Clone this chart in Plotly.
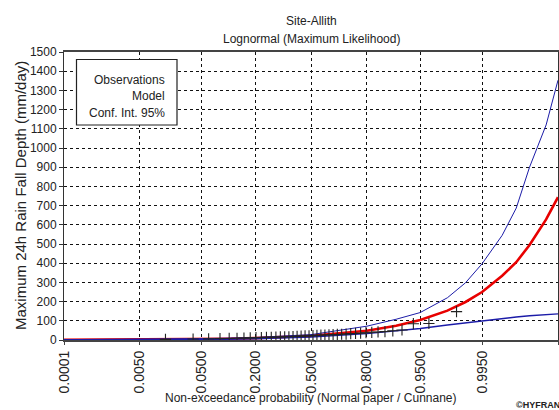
from statistics import NormalDist
import plotly.graph_objects as go

# ---------------- data ----------------
tick_probs = [0.0001, 0.0050, 0.0500, 0.2000, 0.5000, 0.8000, 0.9500, 0.9950, 0.9999]
tick_labels = ["0.0001", "0.0050", "0.0500", "0.2000", "0.5000", "0.8000", "0.9500", "0.9950", "0.9999"]

curve_probs = [0.0001, 0.0002, 0.0005, 0.001, 0.002, 0.005, 0.01, 0.02, 0.05, 0.1, 0.2,
               0.5, 0.8, 0.9, 0.95, 0.98, 0.99, 0.995, 0.998, 0.999, 0.9995, 0.9998, 0.9999]
model = [0.6, 0.8, 1.0, 1.2, 1.4, 1.9, 2.4, 3.1, 4.6, 6.5, 9.8,
         21.8, 48.5, 74, 104, 153, 198, 250, 335, 405, 495, 628, 744]
upper = [2.0, 2.2, 2.6, 3.0, 3.4, 4.0, 4.7, 5.6, 7.4, 9.5, 13,
         28, 72, 108, 143, 220, 298, 397, 545, 687, 900, 1120, 1353]
lower = [0.2, 0.25, 0.35, 0.45, 0.6, 0.9, 1.2, 1.7, 2.8, 4.2, 6.8,
         16, 33, 47, 60, 78, 90, 100, 112, 120, 126, 132, 136]

obs_rank = list(range(1, 43))
obs_values = [3, 5, 6, 7, 8, 9, 10, 11, 12, 13, 14, 14, 15, 16, 17, 17, 18, 19, 20, 21, 22,
              23, 24, 25, 26, 27, 28, 29, 30, 31, 33, 34, 36, 38, 40, 42, 44, 48, 52, 85, 86, 148]
n_obs = len(obs_values)

y_ticks = list(range(0, 1501, 100))

# ---------------- scale: normal probability paper ----------------
nd = NormalDist()
zq = nd.inv_cdf
tick_z = [zq(p) for p in tick_probs]
curve_z = [zq(p) for p in curve_probs]
obs_z = [zq((i - 0.4) / (n_obs + 0.2)) for i in obs_rank]  # Cunnane

FONT = "Arial, Liberation Sans, sans-serif"
BLUE = "#1c1ca8"
RED = "#e80000"

fig = go.Figure()
fig.add_trace(go.Scatter(x=curve_z, y=model, mode="lines",
                         line=dict(color=RED, width=2.6), showlegend=False))
fig.add_trace(go.Scatter(x=curve_z, y=lower, mode="lines",
                         line=dict(color=BLUE, width=1.4), showlegend=False))
fig.add_trace(go.Scatter(x=curve_z, y=upper, mode="lines",
                         line=dict(color=BLUE, width=1.0), showlegend=False))
fig.add_trace(go.Scatter(x=obs_z, y=obs_values, mode="markers",
                         marker=dict(symbol="cross-thin", size=8,
                                     line=dict(color="#222222", width=1.1)),
                         showlegend=False, cliponaxis=True))

L, R, T, B = 64, 1, 52, 70
W = 559 - L - R
H = 410 - T - B


def px(xp):
    return (xp - L) / W


def py(yp):
    return (410 - B - yp) / H


fig.update_layout(
    width=559, height=410,
    margin=dict(l=L, r=R, t=T, b=B, pad=0),
    paper_bgcolor="white", plot_bgcolor="white",
    font=dict(family=FONT, size=12, color="#222222"),
    xaxis=dict(range=[tick_z[0], tick_z[-1]], tickvals=tick_z, ticktext=tick_labels,
               tickangle=-90, showgrid=True, gridcolor="#111111", griddash="3px,3px",
               gridwidth=1, zeroline=False, showline=True, linecolor="#444444",
               linewidth=2, mirror=True, ticks="outside", ticklen=3,
               tickcolor="#444444", tickfont=dict(size=14, family=FONT)),
    yaxis=dict(range=[0, 1500], tickvals=y_ticks, showgrid=True, gridcolor="#111111",
               griddash="3px,3px", gridwidth=1, zeroline=False, showline=True,
               linecolor="#333333", linewidth=1, mirror=True, ticks="outside",
               ticklen=4, tickcolor="#333333", tickfont=dict(size=12, family=FONT)),
    showlegend=False,
)

ann = [
    dict(text="Site-Allith", x=px(311), y=py(21), xanchor="center", yanchor="middle"),
    dict(text="Lognormal (Maximum Likelihood)", x=px(311), y=py(39), xanchor="center",
         yanchor="middle"),
    dict(text="Non-exceedance probability (Normal paper / Cunnane)", x=px(311), y=py(398),
         xanchor="center", yanchor="middle"),
    dict(text="Maximum 24h Rain Fall Depth (mm/day)", x=px(20), y=py(196),
         xanchor="center", yanchor="middle", textangle=-90,
         font=dict(size=15, family=FONT, color="#222222")),
    dict(text="Observations", x=px(167), y=py(79.5), xanchor="right", yanchor="middle"),
    dict(text="Model", x=px(167), y=py(96.5), xanchor="right", yanchor="middle"),
    dict(text="Conf. Int. 95%", x=px(167), y=py(112.5), xanchor="right", yanchor="middle"),
    dict(text="<b>©HYFRAN</b>", x=px(514), y=py(405), xanchor="left", yanchor="middle",
         font=dict(size=9, family=FONT, color="#222222")),
]
for a in ann:
    a.setdefault("font", dict(size=12, family=FONT, color="#222222"))
    fig.add_annotation(xref="paper", yref="paper", showarrow=False, **a)

fig.add_shape(type="rect", xref="paper", yref="paper",
              x0=px(76.5), x1=px(177), y0=py(59.5), y1=py(125),
              line=dict(color="#222222", width=1.2), fillcolor="white", layer="above")

fig.write_html("out.html")
